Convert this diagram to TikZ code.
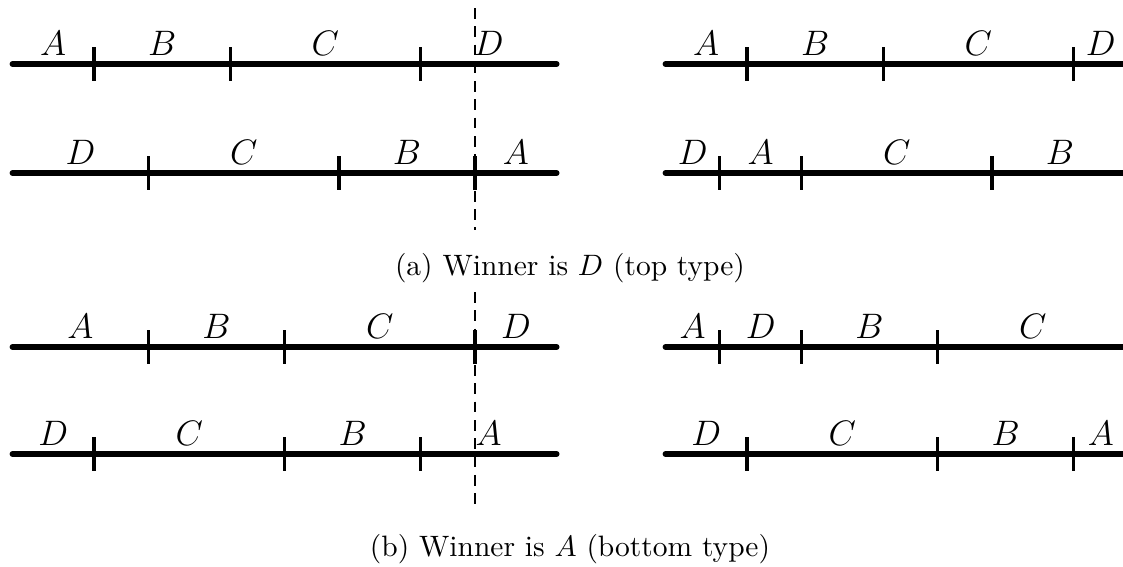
\documentclass[tikz,border=0pt]{standalone}
\begin{document}
\begin{tikzpicture}[x=0.339pt,y=-0.339pt,
  seg/.style={line width=1.9pt,line cap=round},
  tick/.style={line width=1.1pt},
  divider/.style={line width=0.6pt,dash pattern=on 3.6pt off 2.6pt},
  lab/.style={anchor=base,inner sep=0pt,font=\fontsize{11.5pt}{14pt}\selectfont},
  captext/.style={anchor=base,inner sep=0pt,font=\fontsize{10pt}{12pt}\selectfont}]
\useasboundingbox (0,0) rectangle (1123,566);
\def\u{54.43}
\def\tl{17}
% Row 1 (y=64) left
\coordinate (r1ls) at (12.4,64); \coordinate (r1le) at (12.4+10*\u,64);
\draw[seg] (r1ls) -- (r1le);
\foreach \t in {1.5,4,7.5} \draw[tick] (12.4+\t*\u,64-\tl) -- (12.4+\t*\u,64+\tl);
\node[lab] (r1lA) at (12.4+0.75*\u,55) {$A$};
\node[lab] (r1lB) at (12.4+2.75*\u,55) {$B$};
\node[lab] (r1lC) at (12.4+5.75*\u,55) {$C$};
\node[lab] (r1lD) at (12.4+8.75*\u,55) {$D$};
% Row 2 (y=173) left
\coordinate (r2ls) at (12.4,173); \coordinate (r2le) at (12.4+10*\u,173);
\draw[seg] (r2ls) -- (r2le);
\foreach \t in {2.5,6,8.5} \draw[tick] (12.4+\t*\u,173-\tl) -- (12.4+\t*\u,173+\tl);
\node[lab] (r2lD) at (12.4+1.25*\u,164) {$D$};
\node[lab] (r2lC) at (12.4+4.25*\u,164) {$C$};
\node[lab] (r2lB) at (12.4+7.25*\u,164) {$B$};
\node[lab] (r2lA) at (12.4+9.25*\u,164) {$A$};
% Row 1 right
\coordinate (r1rs) at (665.4,64); \coordinate (r1re) at (665.4+8.5*\u,64);
\draw[seg] (r1rs) -- (r1re);
\foreach \t in {1.5,4,7.5} \draw[tick] (665.4+\t*\u,64-\tl) -- (665.4+\t*\u,64+\tl);
\node[lab] (r1rA) at (665.4+0.75*\u,55) {$A$};
\node[lab] (r1rB) at (665.4+2.75*\u,55) {$B$};
\node[lab] (r1rC) at (665.4+5.75*\u,55) {$C$};
\node[lab] (r1rD) at (665.4+8*\u,55) {$D$};
% Row 2 right
\coordinate (r2rs) at (665.4,173); \coordinate (r2re) at (665.4+8.5*\u,173);
\draw[seg] (r2rs) -- (r2re);
\foreach \t in {1,2.5,6} \draw[tick] (665.4+\t*\u,173-\tl) -- (665.4+\t*\u,173+\tl);
\node[lab] (r2rD) at (665.4+0.5*\u,164) {$D$};
\node[lab] (r2rA) at (665.4+1.75*\u,164) {$A$};
\node[lab] (r2rC) at (665.4+4.25*\u,164) {$C$};
\node[lab] (r2rB) at (665.4+7.25*\u,164) {$B$};
% divider (a)
\coordinate (da1) at (12.4+8.5*\u,8); \coordinate (da2) at (12.4+8.5*\u,230);
\draw[divider] (da1) -- (da2);
\node[captext] (capa) at (570,275) {(a) Winner is $D$ (top type)};
% Row 3 (y=347) left
\coordinate (r3ls) at (12.4,347); \coordinate (r3le) at (12.4+10*\u,347);
\draw[seg] (r3ls) -- (r3le);
\foreach \t in {2.5,5,8.5} \draw[tick] (12.4+\t*\u,347-\tl) -- (12.4+\t*\u,347+\tl);
\node[lab] (r3lA) at (12.4+1.25*\u,338) {$A$};
\node[lab] (r3lB) at (12.4+3.75*\u,338) {$B$};
\node[lab] (r3lC) at (12.4+6.75*\u,338) {$C$};
\node[lab] (r3lD) at (12.4+9.25*\u,338) {$D$};
% Row 4 (y=454) left
\coordinate (r4ls) at (12.4,454); \coordinate (r4le) at (12.4+10*\u,454);
\draw[seg] (r4ls) -- (r4le);
\foreach \t in {1.5,5,7.5} \draw[tick] (12.4+\t*\u,454-\tl) -- (12.4+\t*\u,454+\tl);
\node[lab] (r4lD) at (12.4+0.75*\u,445) {$D$};
\node[lab] (r4lC) at (12.4+3.25*\u,445) {$C$};
\node[lab] (r4lB) at (12.4+6.25*\u,445) {$B$};
\node[lab] (r4lA) at (12.4+8.75*\u,445) {$A$};
% Row 3 right
\coordinate (r3rs) at (665.4,347); \coordinate (r3re) at (665.4+8.5*\u,347);
\draw[seg] (r3rs) -- (r3re);
\foreach \t in {1,2.5,5} \draw[tick] (665.4+\t*\u,347-\tl) -- (665.4+\t*\u,347+\tl);
\node[lab] (r3rA) at (665.4+0.5*\u,338) {$A$};
\node[lab] (r3rD) at (665.4+1.75*\u,338) {$D$};
\node[lab] (r3rB) at (665.4+3.75*\u,338) {$B$};
\node[lab] (r3rC) at (665.4+6.75*\u,338) {$C$};
% Row 4 right
\coordinate (r4rs) at (665.4,454); \coordinate (r4re) at (665.4+8.5*\u,454);
\draw[seg] (r4rs) -- (r4re);
\foreach \t in {1.5,5,7.5} \draw[tick] (665.4+\t*\u,454-\tl) -- (665.4+\t*\u,454+\tl);
\node[lab] (r4rD) at (665.4+0.75*\u,445) {$D$};
\node[lab] (r4rC) at (665.4+3.25*\u,445) {$C$};
\node[lab] (r4rB) at (665.4+6.25*\u,445) {$B$};
\node[lab] (r4rA) at (665.4+8*\u,445) {$A$};
% divider (b)
\coordinate (db1) at (12.4+8.5*\u,292); \coordinate (db2) at (12.4+8.5*\u,510);
\draw[divider] (db1) -- (db2);
\node[captext] (capb) at (570,556) {(b) Winner is $A$ (bottom type)};
\end{tikzpicture}
\end{document}
